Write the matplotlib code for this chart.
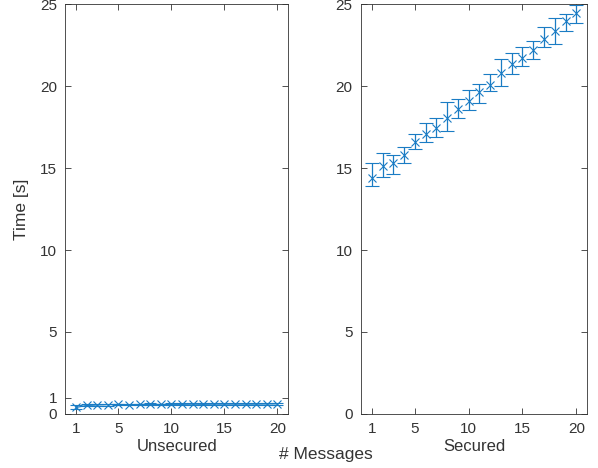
import matplotlib
matplotlib.use("Agg")
import matplotlib.pyplot as plt

plt.rcParams['font.family'] = ['Liberation Sans', 'DejaVu Sans']

n_msgs = list(range(1, 21))

# unsecured: mean time and error (s)
unsec_mean = [0.40, 0.52, 0.55, 0.57, 0.58, 0.57, 0.58, 0.59, 0.58, 0.59,
              0.59, 0.60, 0.59, 0.60, 0.60, 0.60, 0.60, 0.60, 0.61, 0.62]
unsec_err = [0.12, 0.06, 0.05, 0.06, 0.05, 0.05, 0.05, 0.06, 0.05, 0.05,
             0.05, 0.05, 0.05, 0.05, 0.05, 0.05, 0.05, 0.05, 0.05, 0.06]

# secured: mean, upper and lower error bar ends
sec_mean = [14.37, 15.10, 15.29, 15.80, 16.57, 17.10, 17.41, 18.06, 18.61, 19.06,
            19.61, 20.04, 20.80, 21.35, 21.71, 22.22, 22.86, 23.37, 23.98, 24.43]
sec_hi = [15.29, 15.90, 15.78, 16.27, 17.08, 17.76, 18.02, 19.00, 19.22, 19.73,
          20.12, 20.76, 21.63, 22.04, 22.37, 22.76, 23.59, 24.12, 24.37, 24.96]
sec_lo = [13.88, 14.45, 14.61, 15.33, 16.16, 16.61, 16.90, 17.27, 18.02, 18.51,
          18.98, 19.67, 20.02, 20.76, 21.24, 21.67, 22.39, 22.59, 23.35, 23.84]

xticks = [1, 5, 10, 15, 20]
color = '#1a7cc4'
axcol = '#333333'

fig = plt.figure(figsize=(5.98, 4.68), dpi=100)
ax1 = fig.add_axes([0.1095, 0.1154, 0.372, 0.876])
ax2 = fig.add_axes([0.6037, 0.1154, 0.378, 0.876])

ax1.errorbar(n_msgs, unsec_mean, yerr=unsec_err, color=color, marker='x',
             markersize=6, markeredgewidth=0.8, linewidth=0.9, capsize=4, elinewidth=0.9)
err = [[m - l for m, l in zip(sec_mean, sec_lo)], [h - m for m, h in zip(sec_mean, sec_hi)]]
ax2.errorbar(n_msgs, sec_mean, yerr=err, color=color, marker='x', linestyle='none',
             markersize=6, markeredgewidth=0.8, capsize=5, elinewidth=0.9)

for ax in (ax1, ax2):
    ax.set_xlim(0, 21)
    ax.set_ylim(0, 25)
    ax.set_xticks(xticks)
    ax.tick_params(direction='in', length=4, width=0.6, colors=axcol,
                   labelsize=11, top=True, right=True, pad=6)
    for s in ax.spines.values():
        s.set_color(axcol)
        s.set_linewidth(0.6)

ax1.set_yticks([0, 1, 5, 10, 15, 20, 25])
ax2.set_yticks([0, 5, 10, 15, 20, 25])
ax1.set_xlabel('Unsecured', fontsize=12, color=axcol, labelpad=2)
ax2.set_xlabel('Secured', fontsize=12, color=axcol, labelpad=2)
ax1.set_ylabel('Time [s]', fontsize=12.5, color=axcol, labelpad=8)
fig.text(0.545, 0.02, '# Messages', fontsize=12.5, color=axcol, ha='center')

fig.savefig('out.png', dpi=100)
